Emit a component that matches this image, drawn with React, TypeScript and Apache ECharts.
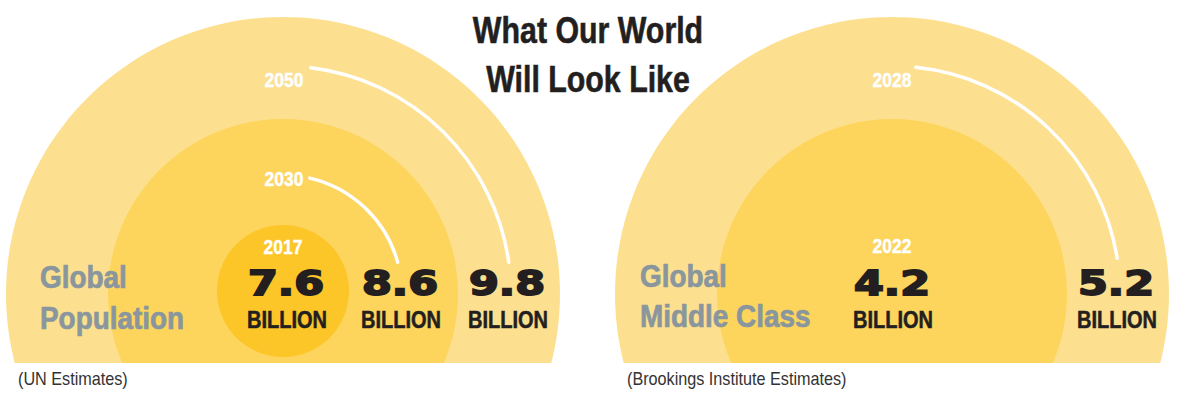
import React, { useEffect, useRef } from 'react';
import * as echarts from 'echarts';

// ---------- data ----------
const titleLines = ['What Our World', 'Will Look Like'];
const popYears = ['2017', '2030', '2050'];
const popValues = [7.6, 8.6, 9.8];
const popLabel = ['Global', 'Population'];
const popSource = '(UN Estimates)';
const mcYears = ['2022', '2028'];
const mcValues = [4.2, 5.2];
const mcLabel = ['Global', 'Middle Class'];
const mcSource = '(Brookings Institute Estimates)';
const unitLabel = 'BILLION';

// ---------- layout / style ----------
const SANS = "'Liberation Sans', Arial, sans-serif";
const HEAVY = "'DejaVu Sans', Verdana, sans-serif";
const BASE_Y = 363;
const RING_COLORS = ['#FCC629', '#FDD55C', '#FDE08F']; // innermost -> outermost
const INK = '#231F20';
const GREY = '#8A969D';

type Panel = {
  cx: number;
  years: string[];
  values: number[];
  label: string[];
  source: string;
  disks: { r: number; cy: number; color: string }[];
  yearPos: [number, number][];
  valueX: number[];
  arcs: ({ r: number; a0: number; a1: number } | null)[];
  labelX: number;
  labelY: number[];
  sourceX: number;
};

const CY = 294;

const panels: Panel[] = [
  {
    cx: 283,
    years: popYears,
    values: popValues,
    label: popLabel,
    source: popSource,
    disks: [
      { r: 66, cy: 291, color: RING_COLORS[0] },
      { r: 175, cy: CY, color: RING_COLORS[1] },
      { r: 277, cy: CY, color: RING_COLORS[2] },
    ],
    yearPos: [[283, 247], [284, 179], [284, 80]],
    valueX: [286, 400, 507],
    arcs: [null, { r: 119, a0: -77, a1: -15.5 }, { r: 228, a0: -83, a1: -8 }],
    labelX: 40,
    labelY: [277, 318],
    sourceX: 18,
  },
  {
    cx: 892,
    years: mcYears,
    values: mcValues,
    label: mcLabel,
    source: mcSource,
    disks: [
      { r: 175, cy: CY, color: RING_COLORS[1] },
      { r: 277, cy: CY, color: RING_COLORS[2] },
    ],
    yearPos: [[892, 246], [892, 80]],
    valueX: [892, 1116],
    arcs: [null, { r: 228, a0: -84, a1: -9 }],
    labelX: 640,
    labelY: [276, 316],
    sourceX: 627,
  },
];

const deg = (d: number) => (d * Math.PI) / 180;

function txt(
  x: number,
  y: number,
  text: string,
  font: string,
  fill: string,
  align: string = 'center',
  scaleX: number = 1,
  extra: any = {}
) {
  return {
    type: 'text',
    x,
    y,
    scaleX,
    z: 110,
    silent: true,
    style: { text, font, fill, textAlign: align, textVerticalAlign: 'middle', ...extra },
  };
}

function buildOption() {
  const series: any[] = [];
  const graphics: any[] = [];

  panels.forEach((p, pi) => {
    // disks, outermost first so inner ones are drawn on top
    for (let i = p.disks.length - 1; i >= 0; i--) {
      const d = p.disks[i];
      series.push({
        type: 'pie',
        name: `${pi}-${p.years[i]}`,
        center: [p.cx, d.cy],
        radius: [0, d.r],
        silent: true,
        clockwise: true,
        label: { show: false },
        labelLine: { show: false },
        emphasis: { disabled: true },
        itemStyle: { color: d.color, borderWidth: 0 },
        data: [{ name: p.years[i], value: p.values[i] }],
        z: 2,
      });
    }
    // arcs
    p.arcs.forEach((a) => {
      if (!a) return;
      graphics.push({
        type: 'arc',
        z: 105,
        silent: true,
        shape: { cx: p.cx, cy: CY, r: a.r, startAngle: deg(a.a0), endAngle: deg(a.a1), clockwise: true },
        style: { stroke: '#FFFFFF', lineWidth: 3.4, fill: null, lineCap: 'round' },
      });
    });
    // year labels
    p.years.forEach((yr, i) => {
      const [x, y] = p.yearPos[i];
      graphics.push(
        txt(x, y, yr, `bold 21px ${SANS}`, '#FFFFFF', 'center', 0.83, { stroke: '#FFFFFF', lineWidth: 0.4 })
      );
    });
    // values + unit
    p.values.forEach((v, i) => {
      graphics.push(
        txt(p.valueX[i], 283, v.toFixed(1), `bold 33px ${HEAVY}`, INK, 'center', 1.3, {
          stroke: INK,
          lineWidth: 1.8,
        })
      );
      graphics.push(
        txt(p.valueX[i] + 1, 320, unitLabel, `bold 23px ${SANS}`, INK, 'center', 0.87, {
          stroke: INK,
          lineWidth: 0.5,
        })
      );
    });
    // category label
    p.label.forEach((l, i) => {
      graphics.push(
        txt(p.labelX, p.labelY[i], l, `bold 31px ${SANS}`, GREY, 'left', 0.9, { stroke: GREY, lineWidth: 0.7 })
      );
    });
    // source
    graphics.push(txt(p.sourceX, 379, p.source, `18px ${SANS}`, '#333333', 'left', 0.9));
  });

  // white band cutting the discs at the base line
  graphics.unshift({
    type: 'rect',
    z: 100,
    silent: true,
    shape: { x: 0, y: BASE_Y, width: 1200, height: 406 - BASE_Y },
    style: { fill: '#FFFFFF' },
  });

  // title
  graphics.push(
    txt(588, 30, titleLines[0], `bold 37px ${SANS}`, INK, 'center', 0.82, { stroke: INK, lineWidth: 0.6 })
  );
  graphics.push(
    txt(588, 79, titleLines[1], `bold 37px ${SANS}`, INK, 'center', 0.82, { stroke: INK, lineWidth: 0.6 })
  );

  return {
    animation: false,
    backgroundColor: '#FFFFFF',
    series,
    graphic: { elements: graphics },
  };
}

export default function App() {
  const ref = useRef<HTMLDivElement>(null);
  useEffect(() => {
    if (!ref.current) return;
    const chart = echarts.init(ref.current, undefined, { renderer: 'svg' });
    chart.setOption(buildOption() as any);
    return () => chart.dispose();
  }, []);
  return (
    <div
      ref={ref}
      style={{ position: 'absolute', left: 0, top: 0, width: 1200, height: 406 }}
    />
  );
}
